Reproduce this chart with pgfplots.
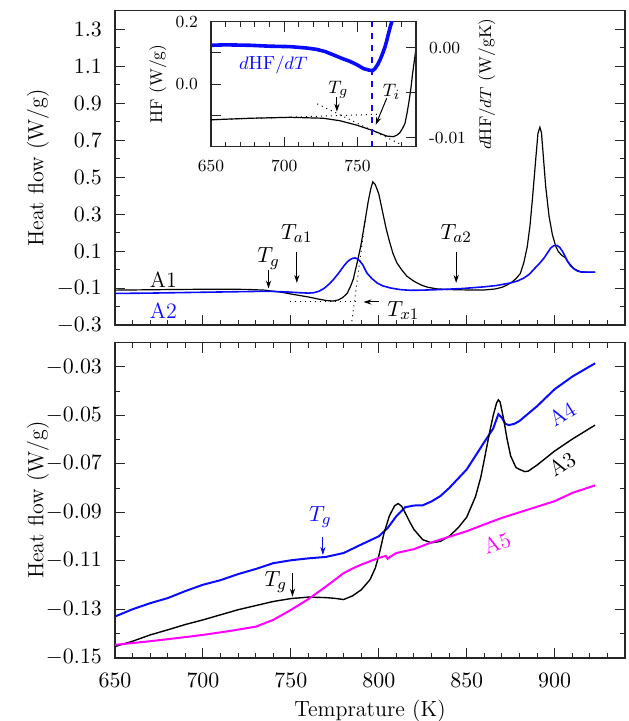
\documentclass[border=0pt]{standalone}
\usepackage{pgfplots}
\pgfplotsset{compat=1.18}
\usetikzlibrary{arrows.meta}
\definecolor{myblue}{RGB}{10,10,255}
\definecolor{mymag}{RGB}{255,0,255}
\begin{document}
\begin{tikzpicture}[font=\fontsize{11}{13}\selectfont,
  arr/.style={-{Stealth[length=4pt,width=2.6pt]}, line width=0.5pt}]
\pgfplotsset{
  mainax/.style={
    scale only axis, width=255pt,
    xmin=650, xmax=940,
    tick align=inside,
    major tick length=5pt, minor tick length=2.5pt,
    every tick/.style={black!85, line width=0.5pt},
    axis line style={black!85, line width=0.8pt},
    xtick={650,700,750,800,850,900},
    minor xtick={660,670,680,690,710,720,730,740,760,770,780,790,810,820,830,840,860,870,880,890,910,920,930},
    ytick pos=both,
    ylabel style={at={(axis description cs:-0.151,0.5)}, anchor=center, font=\fontsize{11}{13}\selectfont},
    ylabel={Heat flow (W/g)},
    xticklabel style={yshift=-4.5pt},
    yticklabel style={xshift=-3pt},
  },
  insetax/.style={
    scale only axis, width=102.5pt, height=62.5pt,
    xmin=650, xmax=790,
    tick align=inside,
    major tick length=5pt, minor tick length=2.5pt,
    every tick/.style={black!85, line width=0.5pt},
    axis line style={black!85, line width=0.8pt},
    tick label style={font=\fontsize{8.5}{10}\selectfont},
    label style={font=\fontsize{8.5}{10}\selectfont},
  }
}
% ---------------- top panel ----------------
\begin{axis}[mainax, at={(57.5pt,197.85pt)}, anchor=south west, height=157.3pt,
  ymin=-0.3, ymax=1.4,
  ytick={-0.3,-0.1,0.1,0.3,0.5,0.7,0.9,1.1,1.3},
  minor ytick={-0.2,0,0.2,0.4,0.6,0.8,1.0,1.2},
  xtick pos=bottom, xticklabels={},
  yticklabel style={/pgf/number format/fixed,/pgf/number format/fixed zerofill,/pgf/number format/precision=1},
]
\addplot[black, line width=0.6pt] coordinates {
(650,-0.110)(670,-0.108)(690,-0.106)(710,-0.105)(725,-0.106)(735,-0.110)(740,-0.116)(745,-0.122)(750,-0.131)(755,-0.139)(760,-0.147)(765,-0.157)(770,-0.166)(774,-0.169)(777,-0.163)(779.5,-0.150)(782,-0.128)(784,-0.088)(785.5,-0.050)(787.6,0.035)(789.8,0.130)(792.3,0.271)(794,0.370)(795.5,0.440)(796.6,0.475)(798,0.460)(800,0.410)(802,0.320)(804,0.230)(806,0.155)(808,0.090)(810.3,0.037)(813,0.000)(816,-0.035)(820,-0.062)(824,-0.082)(828,-0.095)(833,-0.103)(840,-0.107)(850,-0.109)(860,-0.109)(866,-0.104)(870,-0.095)(873,-0.082)(875.5,-0.068)(878,-0.048)(880.5,-0.020)(882.5,0.040)(884.4,0.124)(886,0.240)(887.3,0.376)(888.3,0.490)(889.2,0.593)(890.5,0.737)(891.6,0.770)(892.5,0.740)(893.5,0.620)(894.9,0.450)(896.8,0.290)(898.7,0.190)(900.5,0.130)(902,0.100)(904,0.078)(906,0.066)(907.3,0.046)(911,0.005)(915,-0.012)(920,-0.013)(923,-0.013)};
\addplot[myblue, line width=0.8pt] coordinates {
(650,-0.128)(670,-0.126)(690,-0.123)(710,-0.120)(730,-0.117)(740,-0.117)(748,-0.120)(755,-0.124)(760,-0.126)(763,-0.124)(766,-0.116)(769,-0.100)(772,-0.075)(774.2,-0.053)(777,-0.020)(780,0.019)(782,0.042)(783.7,0.055)(785.2,0.062)(786.6,0.064)(788,0.058)(789.4,0.046)(791,0.025)(793.2,-0.017)(796,-0.047)(799,-0.071)(802,-0.086)(806.5,-0.098)(812,-0.107)(818,-0.111)(825,-0.110)(835,-0.107)(848,-0.101)(860,-0.092)(867,-0.085)(875,-0.071)(879,-0.060)(882.6,-0.044)(885.5,-0.025)(888,0.001)(891,0.030)(894,0.064)(896,0.092)(897.8,0.118)(899.5,0.130)(901.2,0.132)(902.8,0.122)(904.4,0.100)(906,0.072)(907.3,0.046)(909,0.022)(911,0.005)(913,-0.007)(915,-0.012)(919,-0.013)(923,-0.013)};
\addplot[black, dotted, line width=0.5pt] coordinates {(749.6,-0.172)(787.6,-0.172)};
\addplot[black, dotted, line width=0.5pt] coordinates {(784.7,-0.278)(792.3,0.271)};
\node at (axis cs:677.5,-0.056) {A1};
\node[text=myblue] at (axis cs:677.5,-0.219) {A2};
\node at (axis cs:737.3,0.061) {$T_g$};
\draw[arr] (axis cs:737.3,-0.002) -- (axis cs:737.3,-0.101);
\node at (axis cs:753.4,0.196) {$T_{a1}$};
\draw[arr] (axis cs:753.4,0.097) -- (axis cs:753.4,-0.071);
\node at (axis cs:844,0.196) {$T_{a2}$};
\draw[arr] (axis cs:844,0.097) -- (axis cs:844,-0.071);
\draw[arr] (axis cs:799.9,-0.174) -- (axis cs:791.3,-0.174);
\node at (axis cs:814,-0.219) {$T_{x1}$};
\end{axis}
% ---------------- bottom panel ----------------
\begin{axis}[mainax, at={(57.5pt,31.65pt)}, anchor=south west, height=157.5pt,
  ymin=-0.15, ymax=-0.02,
  ytick={-0.15,-0.13,-0.11,-0.09,-0.07,-0.05,-0.03},
  minor ytick={-0.14,-0.12,-0.10,-0.08,-0.06,-0.04},
  xtick pos=both,
  xticklabel style={/pgf/number format/set thousands separator={}},
  yticklabel style={/pgf/number format/fixed,/pgf/number format/fixed zerofill,/pgf/number format/precision=2},
  xlabel={Temprature (K)},
  xlabel style={at={(axis description cs:0.5,-0.168)}, anchor=center, font=\fontsize{11}{13}\selectfont},
]
\addplot[myblue, line width=1pt] coordinates {
(650,-0.1330)(660,-0.1300)(670,-0.1275)(680,-0.1254)(690,-0.1225)(700,-0.1199)(710,-0.1180)(720,-0.1155)(730,-0.1134)(740,-0.1110)(750,-0.1098)(760,-0.1090)(770,-0.1084)(780,-0.1068)(790,-0.1033)(800,-0.0999)(805,-0.0965)(810,-0.0916)(815,-0.0879)(820,-0.0872)(825,-0.0871)(830,-0.0855)(835,-0.0833)(840,-0.0800)(850,-0.0723)(860,-0.0610)(865,-0.0555)(868,-0.0495)(870,-0.0510)(872,-0.0535)(874,-0.0540)(877,-0.0535)(880,-0.0523)(890,-0.0462)(900,-0.0392)(910,-0.0340)(923,-0.0285)};
\addplot[black, line width=0.7pt] coordinates {
(650,-0.1454)(660,-0.1432)(670,-0.1406)(680,-0.1385)(690,-0.1363)(700,-0.1344)(710,-0.1323)(720,-0.1302)(730,-0.1285)(740,-0.1268)(750,-0.1256)(760,-0.1250)(770,-0.1252)(775,-0.1255)(780,-0.1260)(785,-0.1245)(790,-0.1220)(795,-0.1178)(798,-0.1130)(800,-0.1080)(803,-0.0985)(806,-0.0915)(809,-0.0873)(811,-0.0864)(813,-0.0875)(815,-0.0902)(818,-0.0945)(820,-0.0971)(825,-0.1013)(830,-0.1026)(835,-0.1020)(840,-0.0999)(845,-0.0965)(850,-0.0920)(855,-0.0835)(858,-0.0755)(860,-0.0682)(863,-0.0570)(865,-0.0502)(867,-0.0448)(868,-0.0436)(869,-0.0445)(871,-0.0516)(873,-0.0600)(875,-0.0668)(878,-0.0715)(880,-0.0723)(883,-0.0732)(885,-0.0730)(890,-0.0705)(900,-0.0647)(910,-0.0598)(923,-0.0540)};
\addplot[mymag, line width=1pt] coordinates {
(650,-0.1447)(670,-0.1432)(690,-0.1415)(700,-0.1406)(715,-0.1390)(730,-0.1372)(740,-0.1344)(750,-0.1303)(760,-0.1258)(770,-0.1206)(780,-0.1151)(785,-0.1132)(790,-0.1116)(800,-0.1088)(804,-0.1080)(805,-0.1092)(806,-0.1086)(810,-0.1068)(820,-0.1052)(830,-0.1024)(840,-0.1001)(850,-0.0978)(860,-0.0950)(870,-0.0923)(880,-0.0900)(890,-0.0877)(900,-0.0854)(910,-0.0820)(923,-0.0789)};
\node[text=myblue, rotate=32] at (axis cs:904.2,-0.0495) {A4};
\node[rotate=32] at (axis cs:904.2,-0.0702) {A3};
\node[text=mymag, rotate=19] at (axis cs:867.2,-0.1028) {A5};
\node[text=myblue] at (axis cs:766.7,-0.0919) {$T_g$};
\draw[arr, myblue] (axis cs:768.2,-0.1001) -- (axis cs:768.2,-0.1076);
\node at (axis cs:741.5,-0.1187) {$T_g$};
\draw[arr] (axis cs:750.9,-0.1152) -- (axis cs:750.9,-0.1248);
\end{axis}
% ---------------- inset ----------------
\begin{axis}[insetax, at={(105.5pt,287.15pt)}, anchor=south west,
  ymin=-0.2, ymax=0.2,
  xtick={650,700,750}, minor xtick={660,670,680,690,710,720,730,740,760,770,780},
  xticklabels={650,700,750},
  xticklabel style={yshift=-3pt},
  ytick={-0.1,0,0.1,0.2}, yticklabels={{},{0.0},{},{0.2}},
  yticklabel style={xshift=-3pt},
  ytick pos=left,
  ylabel={HF (W/g)},
  ylabel style={at={(axis description cs:-0.259,0.5)}, anchor=center},
]
\addplot[black, dotted, line width=0.5pt] coordinates {(650,-0.114)(766,-0.096)};
\addplot[black, dotted, line width=0.5pt] coordinates {(722.6,-0.063)(779,-0.191)};
\addplot[black, line width=0.6pt] coordinates {
(650,-0.114)(676.6,-0.109)(704,-0.106)(726.7,-0.109)(738.1,-0.117)(749.5,-0.131)(759.7,-0.147)(765,-0.157)(770,-0.166)(774.5,-0.168)(777,-0.163)(779,-0.155)(781,-0.140)(782.5,-0.125)(784,-0.090)(785.4,-0.050)(786.6,-0.010)(787.7,0.035)(789,0.080)(790,0.115)};
\node[font=\fontsize{9.5}{11}\selectfont] at (axis cs:737,-0.019) {$T_g$};
\draw[arr] (axis cs:736,-0.042) -- (axis cs:736,-0.088);
\node[font=\fontsize{9.5}{11}\selectfont] at (axis cs:773.3,-0.024) {$T_i$};
\draw[arr] (axis cs:770,-0.045) -- (axis cs:762.5,-0.130);
\node[text=myblue, font=\fontsize{9.5}{11}\selectfont] at (axis cs:692.5,0.061) {$d$HF$/dT$};
\end{axis}
\begin{axis}[insetax, at={(105.5pt,287.15pt)}, anchor=south west,
  ymin=-0.0110, ymax=0.00293,
  axis x line=none, axis y line*=right,
  tick align=inside,
  scaled y ticks=false,
  ytick={-0.01,-0.005,0}, yticklabels={{-0.01},{},{0.00}},
  yticklabel style={xshift=3pt},
  ylabel={$d$HF$/dT$ (W/gK)},
  ylabel style={at={(axis description cs:1.346,0.5)}, anchor=center},
]
\addplot[myblue, line width=1.8pt] coordinates {
(650,0.0003)(660,0.00035)(676.6,0.0003)(690,0.0002)(704,0.00015)(715,0.0)(722,-0.00015)(728,-0.0004)(733.7,-0.00078)(740,-0.0012)(745,-0.0015)(750,-0.0019)(754.2,-0.0023)(758.7,-0.0025)(760.5,-0.0025)(762,-0.0023)(764,-0.0018)(765.5,-0.0013)(767,-0.0007)(768.9,0.00015)(770,0.0008)(771.2,0.0016)(772.5,0.0024)(773.4,0.0029)(775,0.0040)};
\addplot[myblue, dashed, line width=0.8pt] coordinates {(760,-0.0110)(760,0.00293)};
\end{axis}
\pgfresetboundingbox
\useasboundingbox (0,0) rectangle (314pt,360.5pt);
\end{tikzpicture}
\end{document}
